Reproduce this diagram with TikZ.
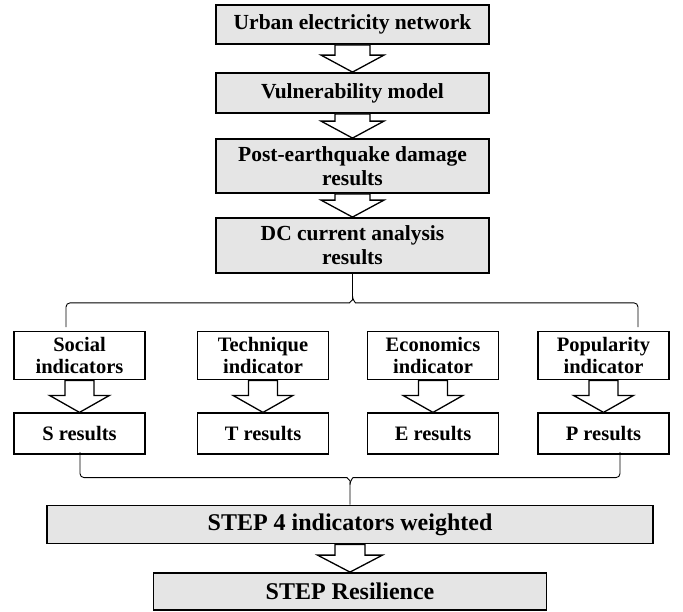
\documentclass[tikz,border=0pt]{standalone}
\usepackage{fontspec}
\setmainfont{Liberation Serif}
\usetikzlibrary{positioning}

\tikzset{
  mainbox/.style={draw, line width=1.8pt, fill=gray!20, align=center, inner sep=0pt,
    minimum width=273pt, font=\fontsize{21.5}{24}\selectfont\bfseries},
  indbox/.style={draw, line width=1.8pt, fill=white, align=center, inner sep=0pt,
    minimum width=131pt, minimum height=48pt, font=\fontsize{20.5}{22}\selectfont\bfseries},
  resbox/.style={indbox, minimum height=41pt},
  stepbox/.style={mainbox, minimum height=38pt, font=\fontsize{24}{26}\selectfont\bfseries},
  hollow/.style={draw, line width=1.3pt, fill=white, line join=miter},
  brace/.style={draw, line width=0.9pt, rounded corners=4pt},
}

% hollow block arrow: from, to, shaft half width, head half width
\newcommand{\blockarrow}[4]{%
  \draw[hollow] ([xshift=-#3]#1.south) -- ([xshift=-#3,yshift=17pt]#2.north)
    -- ([xshift=-#4,yshift=17pt]#2.north) -- (#2.north)
    -- ([xshift=#4,yshift=17pt]#2.north) -- ([xshift=#3,yshift=17pt]#2.north)
    -- ([xshift=#3]#1.south) -- cycle;}

\begin{document}
\begin{tikzpicture}[x=1pt,y=1pt]
\useasboundingbox (0,0) rectangle (683,-611);

\node(urban)[mainbox, minimum height=39pt] at (352.5,-24.5) {Urban electricity network};
\node(vuln)[mainbox, minimum height=40pt] at (352.5,-93) {Vulnerability model};
\node(post)[mainbox, minimum height=54pt] at (352.5,-166) {Post-earthquake damage\\results};
\node(dc)[mainbox, minimum height=55pt] at (352.5,-245.5) {DC current analysis\\results};

\node(social)[indbox] at (79.5,-355.5) {Social\\indicators};
\node(tech)[indbox] at (263,-355.5) {Technique\\indicator};
\node(econ)[indbox] at (433,-355.5) {Economics\\indicator};
\node(pop)[indbox] at (603.5,-355.5) {Popularity\\indicator};

\node(sres)[resbox, below=32pt of social] {S results};
\node(tres)[resbox, below=32pt of tech] {T results};
\node(eres)[resbox, below=32pt of econ] {E results};
\node(pres)[resbox, below=32pt of pop] {P results};

\node(step4)[stepbox, minimum width=606pt] at (350,-524.5) {STEP 4 indicators weighted};
\node(resil)[stepbox, minimum width=393pt, minimum height=37pt] at (350,-591.5) {STEP Resilience};

\blockarrow{urban}{vuln}{17.5pt}{31.5pt}
\blockarrow{vuln}{post}{17.5pt}{31.5pt}
\blockarrow{post}{dc}{17.5pt}{31.5pt}
\blockarrow{social}{sres}{14.5pt}{30pt}
\blockarrow{tech}{tres}{14.5pt}{30pt}
\blockarrow{econ}{eres}{14.5pt}{30pt}
\blockarrow{pop}{pres}{14.5pt}{30pt}
\blockarrow{step4}{resil}{15pt}{32.5pt}

% braces
\coordinate (tl) at (66,-327);
\coordinate (tr) at (638,-327);
\draw[brace] (tl) |- ([xshift=-7pt,yshift=-29pt]dc.south) to[out=0,in=-90] ([yshift=-22pt]dc.south) -- (dc.south);
\draw[brace] (tr) |- ([xshift=7pt,yshift=-29pt]dc.south) to[out=180,in=-90] ([yshift=-22pt]dc.south);

\coordinate (bl) at (80,-452);
\coordinate (br) at (620,-452);
\draw[brace] (bl) |- ([xshift=-7pt,yshift=27pt]step4.north) to[out=0,in=90] ([yshift=20pt]step4.north) -- (step4.north);
\draw[brace] (br) |- ([xshift=7pt,yshift=27pt]step4.north) to[out=180,in=90] ([yshift=20pt]step4.north);
\end{tikzpicture}
\end{document}
